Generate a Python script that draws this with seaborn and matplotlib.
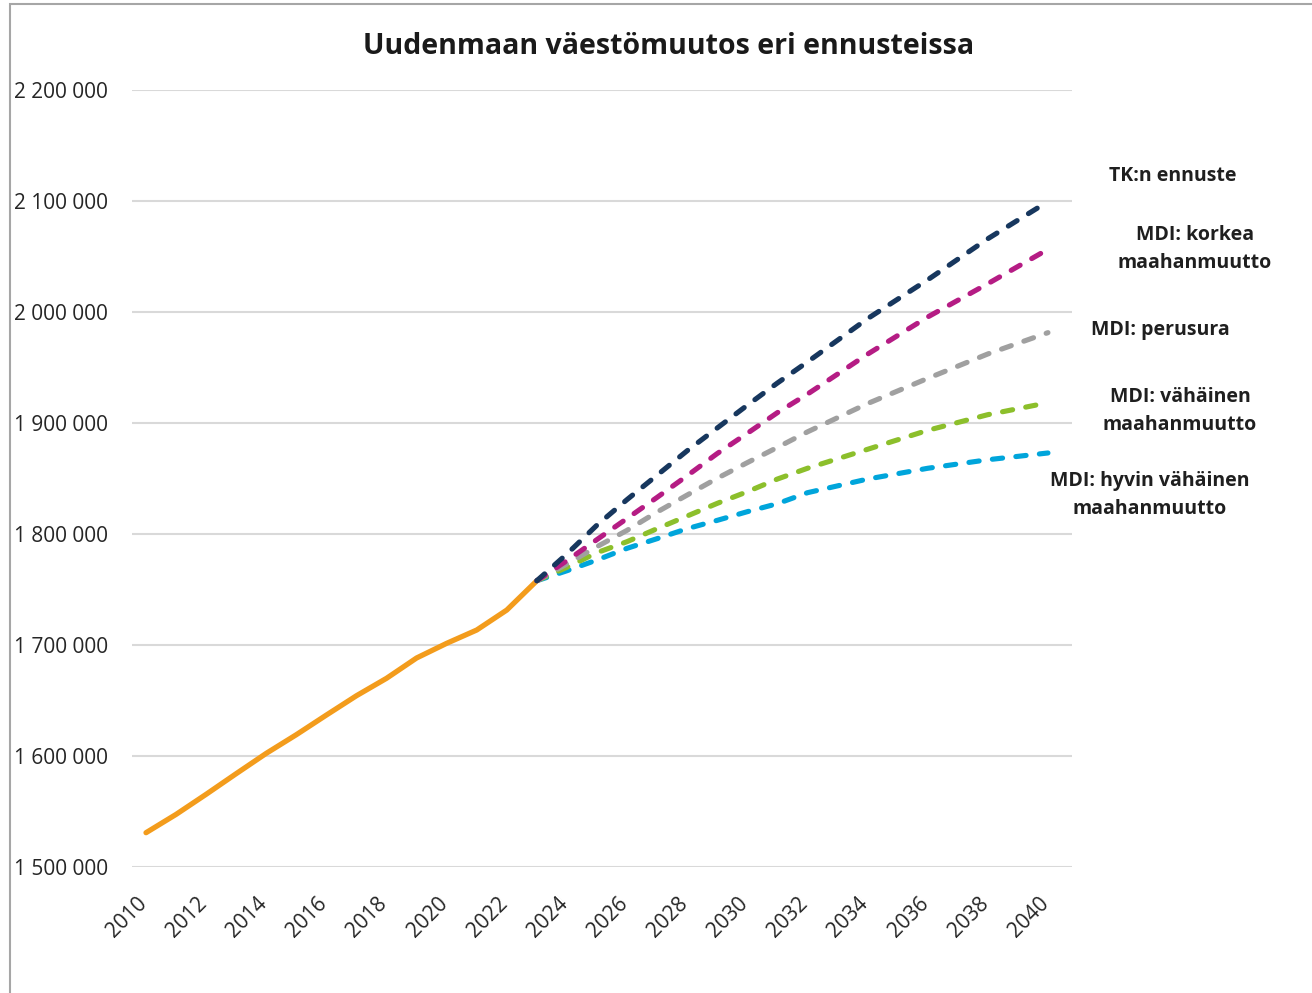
import numpy as np
import pandas as pd
import matplotlib
matplotlib.use("Agg")
import matplotlib.pyplot as plt
import matplotlib.transforms as mtransforms
import seaborn as sns
from matplotlib.patches import Rectangle
from matplotlib.ticker import FuncFormatter

# ---- data ----
hist_years = [2010, 2011, 2012, 2013, 2014, 2015, 2016, 2017, 2018, 2019, 2020, 2021, 2022, 2023]
hist_values = [1530900, 1547400, 1565500, 1584100, 1602400, 1619200, 1636900, 1654300,
               1670000, 1688300, 1701500, 1713500, 1731500, 1757900]

fc_years = [2023, 2024, 2025, 2026, 2027, 2028, 2029, 2030, 2031, 2032, 2034, 2036, 2038, 2040]
tk_ennuste = [1757900, 1782000, 1808000, 1831000, 1853000, 1875000, 1895500, 1916000,
              1936000, 1955000, 1994000, 2029000, 2066000, 2099500]
mdi_korkea = [1757900, 1776000, 1795000, 1814000, 1833000, 1852500, 1872500, 1890700,
              1909300, 1926000, 1962000, 1995500, 2025500, 2056500]
mdi_perusura = [1757900, 1773000, 1788600, 1803300, 1819800, 1835100, 1850200, 1864300,
                1878000, 1892000, 1917500, 1940200, 1962200, 1981400]
mdi_vahainen = [1757900, 1770000, 1783200, 1793100, 1804800, 1816200, 1827600, 1838100,
                1849500, 1859200, 1876300, 1893400, 1907500, 1918300]
mdi_hyvin_vahainen = [1757900, 1766900, 1776600, 1787100, 1795800, 1804800, 1812300, 1820100,
                      1827300, 1837200, 1849500, 1859200, 1866900, 1873000]

series_labels = ["TK:n ennuste", "MDI: korkea\nmaahanmuutto", "MDI: perusura",
                 "MDI: vähäinen\nmaahanmuutto", "MDI: hyvin vähäinen\nmaahanmuutto"]
title = "Uudenmaan väestömuutos eri ennusteissa"
x_ticks = list(range(2010, 2041, 2))
y_ticks = [1500000, 1600000, 1700000, 1800000, 1900000, 2000000, 2100000, 2200000]

# ---- style ----
sns.set_theme(style="white")
plt.rcParams['font.family'] = ['Open Sans', 'DejaVu Sans']

W, H = 1312, 993
fig = plt.figure(figsize=(W / 100, H / 100), dpi=100)
ax = fig.add_axes([132 / W, 1 - 867 / H, (1072 - 132) / W, (867 - 90) / H])

col_hist = "#F39C1C"
colors = ["#17375E", "#B51C84", "#A0A0A0", "#8CBF2B", "#00A5DB"]

sns.lineplot(x=hist_years, y=hist_values, ax=ax, color=col_hist, lw=3.8,
             solid_capstyle="round", solid_joinstyle="round", zorder=3)

fc_data = [tk_ennuste, mdi_korkea, mdi_perusura, mdi_vahainen, mdi_hyvin_vahainen]
order = [4, 3, 2, 1, 0]
for z, i in enumerate(order):
    sns.lineplot(x=fc_years, y=fc_data[i], ax=ax, color=colors[i], lw=3.7,
                 linestyle=(0, (2.0, 2.6)), dash_capstyle="round", zorder=4 + z)

ax.set_xlim(2009.534, 2040.80)
ax.set_ylim(1500000, 2200000)
ax.set_xticks(x_ticks)
ax.set_yticks(y_ticks)
ax.yaxis.set_major_formatter(FuncFormatter(lambda v, p: f"{int(v):,}".replace(",", " ")))
ax.grid(axis="y", color="#D9D9D9", lw=1.5)
ax.grid(axis="x", visible=False)
for s in ax.spines.values():
    s.set_visible(False)
ax.set_xlabel("")
ax.set_ylabel("")
ax.tick_params(axis="y", length=0, pad=85, labelsize=15, labelcolor="#262626")
for lab in ax.get_yticklabels():
    lab.set_horizontalalignment("left")
ax.tick_params(axis="x", length=0, pad=19, labelsize=15, labelcolor="#262626")
shift = mtransforms.ScaledTranslation(5 / 100, 0, fig.dpi_scale_trans)
for lab in ax.get_xticklabels():
    lab.set_rotation(45)
    lab.set_horizontalalignment("right")
    lab.set_transform(lab.get_transform() + shift)

fig.text(669 / W, 1 - 46 / H, title, ha="center", va="center", fontsize=20.5,
         fontweight="bold", color="#1A1A1A")

label_pos = [(1173, 176), (1195, 249), (1160, 330), (1180, 411), (1150, 495)]
for lab, (px, py) in zip(series_labels, label_pos):
    fig.text(px / W, 1 - py / H, lab, ha="center", va="center", fontsize=14,
             fontweight="bold", color="#1F1F1F", linespacing=1.55)

# outer chart border
fig.patches.append(Rectangle((10 / W, -0.1), 1.2, 0.1 + 1 - 4 / H, transform=fig.transFigure,
                             fill=False, edgecolor="#A6A6A6", lw=1.5, zorder=0))

fig.savefig("out.png", dpi=100)
